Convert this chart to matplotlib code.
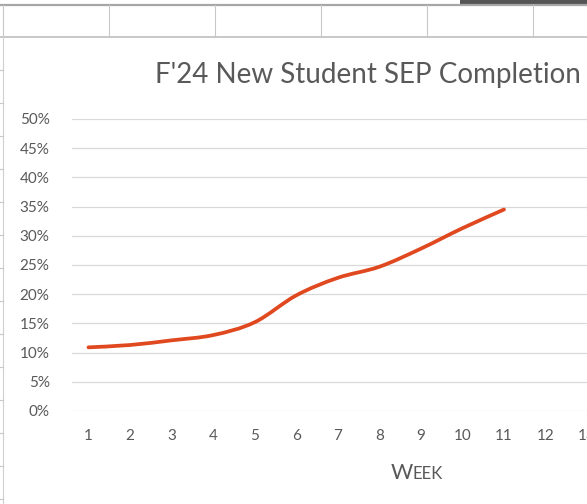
import matplotlib.pyplot as plt
import numpy as np
from matplotlib.path import Path
from matplotlib.patches import PathPatch

weeks = [1, 2, 3, 4, 5, 6, 7, 8, 9, 10, 11]
completion = [10.9, 11.3, 12.1, 13.0, 15.2, 19.8, 22.8, 24.7, 27.8, 31.3, 34.5]
week_ticks = list(range(1, 14))
pct_ticks = list(range(0, 55, 5))

title = "F'24 New Student SEP Completion"
text_color = "#595959"
line_color = "#E0491F"
grid_color = "#D9D9D9"
font = ["Lato", "DejaVu Sans"]

W, H = 587, 504
fig = plt.figure(figsize=(W / 100, H / 100), dpi=100)


def px(x, y):
    """pixel (top-left origin) -> figure fraction"""
    return x / W, 1 - y / H


# spreadsheet background behind the chart
for y, lw, c in [(5, 1.6, "#A6A6A6"), (37, 1.2, "#BFBFBF")]:
    fig.add_artist(plt.Line2D([0, 1], [1 - y / H] * 2, color=c, lw=lw))
for x in [3, 109, 215, 321, 427, 533]:
    fig.add_artist(plt.Line2D([x / W] * 2, [1 - 5 / H, 1 - 37 / H], color="#C8C8C8", lw=0.8))
fig.add_artist(plt.Line2D([3 / W] * 2, [0, 1 - 37 / H], color="#D0D0D0", lw=0.8))
for y in range(70, H, 33):
    fig.add_artist(plt.Line2D([0, 3 / W], [1 - y / H] * 2, color="#C8C8C8", lw=0.8))
fig.add_artist(plt.Rectangle(px(460, 4), 127 / W, 4 / H, color="#555555", lw=0))

# plot area: x=1 at 88.5px, 41.55px per week; 0% at 411px, 50% at 119px
x0, x1 = 0.6, 13.5
step = 41.55
left_px = 88.5 - (1 - x0) * step
width_px = (x1 - x0) * step
ax = fig.add_axes([left_px / W, (H - 411) / H, width_px / W, 292 / H])
ax.set_xlim(x0, x1)
ax.set_ylim(0, 50)

# Excel-style smoothed line (cubic Bezier through the data points)
pts = np.column_stack([weeks, completion]).astype(float)
ext = np.vstack([pts[0], pts, pts[-1]])
verts = [tuple(pts[0])]
codes = [Path.MOVETO]
for i in range(len(pts) - 1):
    p0, p1, p2, p3 = ext[i], ext[i + 1], ext[i + 2], ext[i + 3]
    c1 = p1 + (p2 - p0) / 6
    c2 = p2 - (p3 - p1) / 6
    verts += [tuple(c1), tuple(c2), tuple(p2)]
    codes += [Path.CURVE4] * 3
ax.add_patch(PathPatch(Path(verts, codes), fill=False, edgecolor=line_color,
                       lw=2.7, capstyle="round", joinstyle="round", zorder=3))

ax.set_yticks(pct_ticks)
ax.set_yticklabels([f"{v}%" for v in pct_ticks])
ax.set_xticks(week_ticks)
ax.set_xticklabels([str(w) for w in week_ticks])
ax.grid(axis="y", color=grid_color, lw=0.9)
ax.set_axisbelow(True)
ax.tick_params(axis="both", length=0, colors=text_color, labelsize=11)
ax.tick_params(axis="y", pad=16)
ax.tick_params(axis="x", pad=13)
for lab in ax.get_xticklabels() + ax.get_yticklabels():
    lab.set_family(font)
for s in ax.spines.values():
    s.set_visible(False)
ax.patch.set_alpha(0)

fig.text(*px(155, 83), title, family=font, fontsize=20, color=text_color,
         ha="left", va="baseline")
# small-caps axis title
fig.text(*px(413, 479), "W", family=font, fontsize=15.5, color=text_color, ha="right", va="baseline")
fig.text(*px(413, 479), "EEK", family=font, fontsize=12, color=text_color, ha="left", va="baseline")

fig.savefig("out.png", dpi=100)
